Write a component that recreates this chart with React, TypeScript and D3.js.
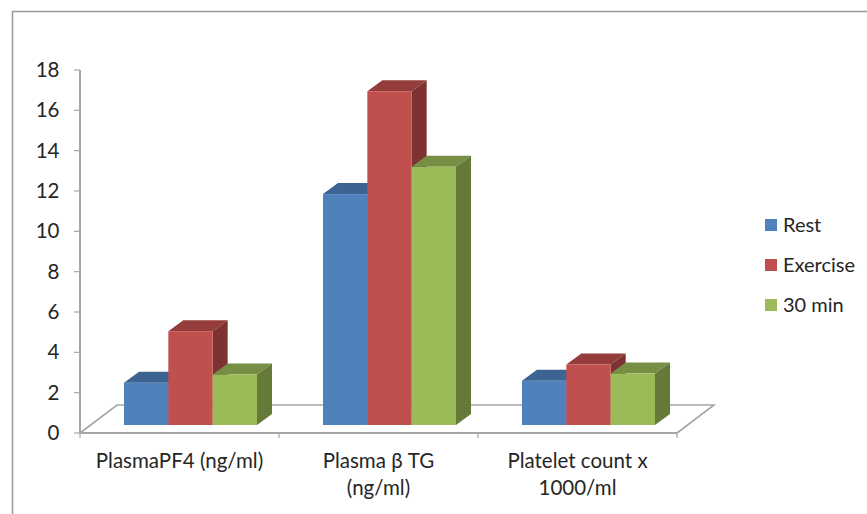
import React from "react";
import * as d3 from "d3";

const categories = ["PlasmaPF4 (ng/ml)", "Plasma β TG (ng/ml)", "Platelet count x 1000/ml"];
const categoryLines = [["PlasmaPF4 (ng/ml)"], ["Plasma β TG", "(ng/ml)"], ["Platelet count x", "1000/ml"]];
const seriesNames = ["Rest", "Exercise", "30 min"];
const rest = [2.1, 11.45, 2.2];
const exercise = [4.65, 16.55, 3.0];
const thirty = [2.5, 12.8, 2.55];
const yTicks = [0, 2, 4, 6, 8, 10, 12, 14, 16, 18];
const frontColors = ["#4f81bd", "#c0504d", "#9bbb59"];
const topColors = ["#3c6391", "#943d3b", "#778f44"];
const sideColors = ["#345578", "#7e3332", "#657a38"];

const W = 867, H = 514;
const axisColor = "#a6a6a6";
const textColor = "#262626";
const font = "Lato, 'Open Sans', sans-serif";

export default function App() {
  const series = [rest, exercise, thirty];
  const y = d3.scaleLinear().domain([0, 18]).range([433, 70]);
  const x = d3.scaleBand<string>().domain(categories).range([80, 677]);
  const inner = d3.scaleBand<string>().domain(seriesNames).range([44, 177]);
  const [fdx, fdy] = [37, -28];
  const [bdx, bdy] = [15, -11];
  const baseShift = -8;
  const floorPts = [
    [x.range()[0], y(0)],
    [x.range()[0] + fdx, y(0) + fdy],
    [x.range()[1] + fdx, y(0) + fdy],
    [x.range()[1], y(0)],
  ];
  const line = d3.line();
  const bandEdges = [...categories.map((c) => x(c)!), x.range()[1]];

  return (
    <svg width={W} height={H} style={{ position: "absolute", left: 0, top: 0, background: "#fff" }}>
      <path d={`M12.5,${H} V11.5 H${W}`} fill="none" stroke="#9a9a9a" strokeWidth={1.5} />
      <path d={line(floorPts as [number, number][])!} fill="none" stroke={axisColor} strokeWidth={1.6} />
      <line x1={x.range()[0]} x2={x.range()[0]} y1={y(18)} y2={y(0)} stroke={axisColor} strokeWidth={2} />
      <line x1={x.range()[0]} x2={x.range()[1]} y1={y(0)} y2={y(0)} stroke={axisColor} strokeWidth={2} />
      {yTicks.map((t) => (
        <g key={t}>
          <line x1={74} x2={80} y1={y(t)} y2={y(t)} stroke={axisColor} strokeWidth={1.2} />
          <text x={59.5} y={y(t) + 7} textAnchor="end" fontFamily={font} fontSize={20.5} fill={textColor}>{t}</text>
        </g>
      ))}
      {bandEdges.map((e) => (
        <line key={e} x1={e} x2={e} y1={y(0)} y2={y(0) + 5} stroke={axisColor} strokeWidth={1.2} />
      ))}
      {categories.map((c, ci) =>
        seriesNames.map((s, si) => {
          const x0 = x(c)! + inner(s)!;
          const x1 = x0 + inner.bandwidth();
          const yb = y(0) + baseShift;
          const yt = y(series[si][ci]) + baseShift;
          return (
            <g key={c + s}>
              <path d={`M${x0},${yt} L${x0 + bdx},${yt + bdy} H${x1 + bdx} L${x1},${yt} Z`} fill={topColors[si]} />
              <path d={`M${x1},${yt} L${x1 + bdx},${yt + bdy} V${yb + bdy} L${x1},${yb} Z`} fill={sideColors[si]} />
              <rect x={x0} y={yt} width={x1 - x0} height={yb - yt} fill={frontColors[si]} />
            </g>
          );
        })
      )}
      {categories.map((c, ci) => (
        <text key={c} textAnchor="middle" fontFamily={font} fontSize={20.5} fill={textColor}>
          {categoryLines[ci].map((l, li) => (
            <tspan key={l} x={x(c)! + x.bandwidth() / 2} y={467.5 + li * 27}>{l}</tspan>
          ))}
        </text>
      ))}
      {seriesNames.map((s, si) => (
        <g key={s}>
          <rect x={765} y={219 + si * 40} width={12} height={12} fill={frontColors[si]} />
          <text x={783} y={231.5 + si * 40} fontFamily={font} fontSize={20} fill={textColor}>{s}</text>
        </g>
      ))}
    </svg>
  );
}
